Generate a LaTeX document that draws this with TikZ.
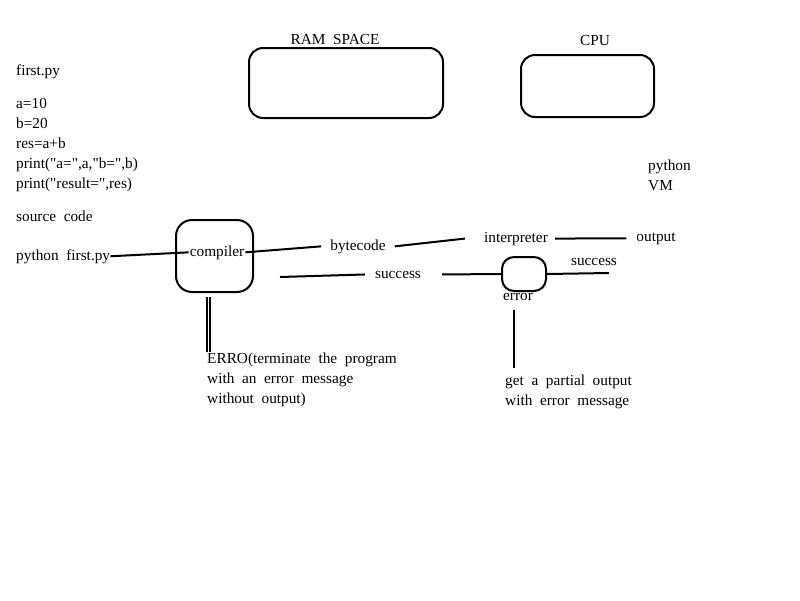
\documentclass[tikz,border=0pt]{standalone}
\usepackage{fontspec}
\setmainfont{Liberation Serif}[Ligatures=TeXOff]
\usetikzlibrary{positioning,calc}

\begin{document}
\begin{tikzpicture}[x=1pt,y=-1pt,
    txt/.style={font=\fontsize{15.3}{20}\selectfont, inner sep=0pt, align=left},
    codetxt/.style={txt, anchor=base west},
    membox/.style={draw, line width=2pt, rounded corners=14pt},
    ln/.style={line width=2pt},
]
\useasboundingbox (0,0) rectangle (800,600);

% memory and cpu
\node[membox, minimum width=194pt, minimum height=70pt] (ram) at (346,83) {};
\node[membox, minimum width=133pt, minimum height=62pt] (cpu) at (587.5,86) {};
\node[txt, anchor=base] (ramlbl) at (335,44) {RAM\ \ SPACE};
\node[txt, anchor=base] (cpulbl) at (595,45) {CPU};

% source file (base = last line)
\node[codetxt] (fname) at (16,75) {first.py};
\node[codetxt] (code) at (16,188) {a=10\\b=20\\res=a+b\\print("a=",a,"b=",b)\\print("result=",res)};
\node[codetxt] (src) at (16,221) {source\ \ code};
\node[codetxt] (run) at (16,260) {python\ \ first.py};
\node[codetxt] (pvm) at (648,190) {python\\VM};

% compile step
\node[membox, rounded corners=16pt, minimum width=77pt, minimum height=72pt] (compbox) at (214.5,256) {};
\node[txt, anchor=base, inner xsep=1pt] (comp) at (217,256) {compiler};
\node[txt, anchor=base, inner xsep=9pt] (byte) at (358,250) {bytecode};
\node[txt, anchor=base] (interp) at (516,242) {interpreter};
\node[txt, anchor=base, inner xsep=10pt] (out) at (656,241) {output};
\node[txt, anchor=base] (succ) at (398,278) {success};
\node[membox, rounded corners=12pt, minimum width=44pt, minimum height=34pt] (ebox) at (524,274) {};
\node[txt, anchor=base] (succ2) at (594,265) {success};
\node[txt, anchor=base] (err) at (518,300) {error};

% error messages
\node[codetxt] (cerr) at (207,403) {ERRO(terminate\ \ the\ \ program\\with\ \ an\ \ error\ \ message\\without\ \ output)};
\node[codetxt] (perr) at (505,405) {get\ \ a\ \ partial\ \ output\\with\ \ error\ \ message};

\coordinate (s0) at (280,277);
\coordinate (s3) at (609,273);
\coordinate (c1) at (208.5,297);
\coordinate (c2) at (208.5,352);
\coordinate (e1) at (514,310);
\coordinate (e2) at (514,368);

\draw[ln] (run.east) -- (comp.west);
\draw[ln] (comp.east) -- (byte.west);
\draw[ln] (byte.east) -- ([xshift=-19pt]interp.west);
\draw[ln] ([xshift=7pt]interp.east) -- (out.west);
\draw[ln] (s0) -- ([xshift=-10pt]succ.west);
\draw[ln] ([xshift=21pt]succ.east) -- (ebox.west);
\draw[ln] (ebox.east) -- (s3);
\draw[line width=1.6pt, double, double distance=1.8pt] (c1) -- (c2);
\draw[ln] (e1) -- (e2);
\end{tikzpicture}
\end{document}
